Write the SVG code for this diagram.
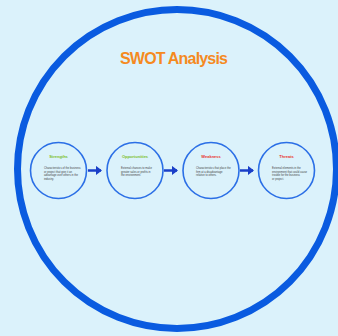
<svg xmlns="http://www.w3.org/2000/svg" width="338" height="336" viewBox="0 0 338 336">
<defs>
<style>
.node{fill:none;stroke:#2b6fe6;stroke-width:1.6}
.lbl{font-family:"Liberation Sans",Arial,sans-serif;font-size:4px;font-weight:bold;text-anchor:middle}
.g{fill:#7dc02a}
.r{fill:#e8352c}
.body{font-family:"Liberation Sans",Arial,sans-serif;font-size:2.7px;fill:#444}
.conn{stroke:#1a3fc8;stroke-width:2.5;fill:none}
</style>
<marker id="ah" markerWidth="4" markerHeight="4" refX="2.2" refY="2" orient="auto" markerUnits="strokeWidth">
<path d="M0,0 L2.6,2 L0,4 Z" fill="#1a3fc8"/>
</marker>
</defs>
<rect width="338" height="336" fill="#dbf2fb"/>
<circle cx="177" cy="169" r="159.5" fill="none" stroke="#0a5be0" stroke-width="7"/>
<text x="174" y="64" font-family="'Liberation Sans',Arial,sans-serif" font-size="16" font-weight="bold" fill="#f58a1f" text-anchor="middle" textLength="108">SWOT Analysis</text>
<g id="connectors">
<line class="conn" x1="88" y1="170.5" x2="101" y2="170.5" marker-end="url(#ah)"/>
<line class="conn" x1="164" y1="170.5" x2="177" y2="170.5" marker-end="url(#ah)"/>
<line class="conn" x1="240" y1="170.5" x2="253" y2="170.5" marker-end="url(#ah)"/>
</g>
<g id="strengths">
<circle class="node" cx="58.5" cy="170.5" r="28"/>
<text class="lbl g" x="58.5" y="158">Strengths</text>
<text class="body" x="44" y="169">Characteristics of the business</text>
<text class="body" x="44" y="172.5">or project that give it an</text>
<text class="body" x="44" y="176">advantage over others in the</text>
<text class="body" x="44" y="179.5">industry.</text>
</g>
<g id="opportunities">
<circle class="node" cx="135" cy="170.5" r="28"/>
<text class="lbl g" x="135" y="158">Opportunities</text>
<text class="body" x="121" y="169">External chances to make</text>
<text class="body" x="121" y="172.5">greater sales or profits in</text>
<text class="body" x="121" y="176">the environment.</text>
</g>
<g id="weakness">
<circle class="node" cx="211" cy="170.5" r="28"/>
<text class="lbl r" x="211" y="158">Weakness</text>
<text class="body" x="196" y="169">Characteristics that place the</text>
<text class="body" x="196" y="172.5">firm at a disadvantage</text>
<text class="body" x="196" y="176">relative to others.</text>
</g>
<g id="threats">
<circle class="node" cx="286.5" cy="170.5" r="28"/>
<text class="lbl r" x="286.5" y="158">Threats</text>
<text class="body" x="272" y="169">External elements in the</text>
<text class="body" x="272" y="172.5">environment that could cause</text>
<text class="body" x="272" y="176">trouble for the business</text>
<text class="body" x="272" y="179.5">or project.</text>
</g>
</svg>
